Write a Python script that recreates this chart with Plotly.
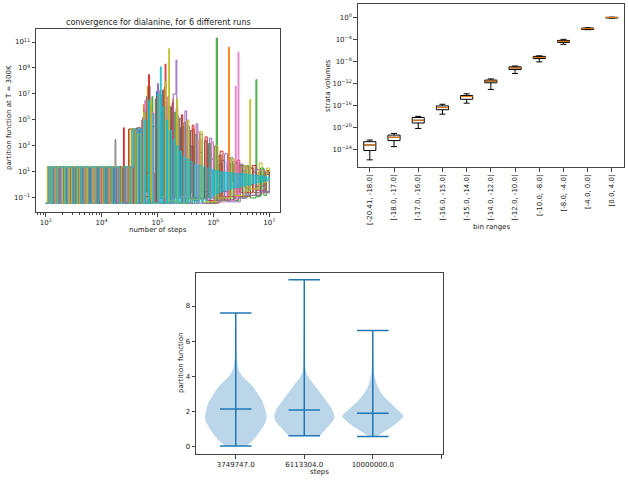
import math
import plotly.graph_objects as go

# ---------------- Panel 1: convergence runs, (log10 steps, log10 partition function) ----------------
run_colors = ["#1f77b4", "#ff7f0e", "#2ca02c", "#d62728", "#9467bd",
              "#8c564b", "#e377c2", "#7f7f7f", "#bcbd22", "#17becf"]

run0_pts = [(3.00,-1.4),(3.03,1.4),(3.08,-1.4),(3.12,1.4),(3.19,-1.4),(3.22,1.4),(3.31,-1.4),(3.35,1.4),(3.44,-1.4),(3.47,1.4),
            (3.58,-1.4),(3.62,1.4),(3.71,-1.4),(3.76,1.4),(3.86,-1.4),(3.90,1.4),(4.01,-1.4),(4.06,1.4),(4.16,-1.4),(4.21,1.4),
            (4.33,-1.4),(4.38,1.4),(4.52,-1.4),
            (4.56,4.3),(4.63,-1.4),(4.68,4.3),(4.74,-0.5),(4.80,6.8),(4.815,-1.4),(4.86,5.5),(4.89,-1.4),(4.98,7.2),(4.995,-0.8),
            (5.10,6.0),(5.12,-1.4),(5.24,5.2),(5.26,-1.0),(5.41,4.4),(5.43,-1.4),(5.50,3.8),(5.53,-0.6),(5.60,3.0),(5.64,-1.2),
            (5.75,2.5),(5.80,-0.5),(5.95,2.0),(6.00,-1.0),(6.10,1.6),(6.15,-0.5),(6.30,1.4),(6.36,-0.3),(6.50,1.1),(6.56,0.0),
            (6.70,1.0),(6.76,-0.1),(6.90,0.8),(7.00,0.6)]

run1_pts = [(3.01,-1.4),(3.05,1.4),(3.10,-1.4),(3.14,1.4),(3.23,-1.4),(3.27,1.4),(3.36,-1.4),(3.40,1.4),(3.50,-1.4),(3.54,1.4),
            (3.65,-1.4),(3.69,1.4),(3.79,-1.4),(3.83,1.4),(3.93,-1.4),(3.98,1.4),(4.09,-1.4),(4.14,1.4),(4.25,-1.4),(4.30,1.4),
            (4.45,-1.4),
            (4.50,4.3),(4.58,-1.4),(4.62,3.5),(4.70,-1.4),(4.75,6.2),(4.765,0.8),(4.82,7.6),(4.835,-1.4),(4.99,6.5),(5.005,-1.4),
            (5.12,5.8),(5.14,-0.6),(5.27,6.6),(5.285,-1.4),(5.44,4.5),(5.47,-1.0),(5.63,4.3),(5.66,-1.4),(5.74,3.5),(5.78,-0.8),
            (5.90,2.8),(5.94,-1.3),(6.08,2.2),(6.12,-1.0),(6.27,10.6),(6.285,0.2),(6.34,1.8),(6.40,-0.5),(6.50,1.5),(6.56,-0.2),
            (6.64,1.3),(6.70,-0.3),(6.80,1.0),(6.86,0.0),(6.94,0.9),(7.00,0.6)]

run2_pts = [(3.02,-1.4),(3.06,1.4),(3.13,-1.4),(3.17,1.4),(3.25,-1.4),(3.29,1.4),(3.39,-1.4),(3.43,1.4),(3.53,-1.4),(3.57,1.4),
            (3.68,-1.4),(3.72,1.4),(3.82,-1.4),(3.87,1.4),(3.96,-1.4),(4.00,1.4),(4.12,-1.4),(4.17,1.4),(4.28,-1.4),(4.34,1.4),
            (4.47,-1.4),
            (4.53,4.2),(4.60,-1.4),(4.66,3.8),(4.72,-1.4),(4.79,5.0),(4.81,-0.5),(4.90,6.8),(4.915,-1.4),(5.03,7.1),(5.045,-1.0),
            (5.15,6.2),(5.17,-1.4),(5.30,5.6),(5.32,-0.7),(5.47,4.8),(5.50,-1.4),(5.67,3.9),(5.70,-1.0),(5.91,3.2),(5.95,-1.4),
            (6.05,11.3),(6.07,-1.3),(6.15,1.9),(6.20,-1.2),(6.30,1.6),(6.36,-1.2),(6.45,1.5),(6.52,-1.0),(6.60,1.4),(6.66,-1.0),
            (6.76,8.1),(6.775,-0.9),(6.84,1.3),(6.90,-0.8),(6.95,1.1),(7.00,-0.6)]

run3_pts = [(3.00,-1.4),(3.04,1.4),(3.11,-1.4),(3.15,1.4),(3.21,-1.4),(3.25,1.4),(3.33,-1.4),(3.37,1.4),(3.46,-1.4),(3.49,1.4),
            (3.60,-1.4),(3.64,1.4),(3.74,-1.4),(3.78,1.4),(3.88,-1.4),(3.92,1.4),(4.04,-1.4),(4.08,1.4),(4.20,-1.4),(4.24,1.4),
            (4.37,-1.4),(4.39,4.4),(4.405,-1.4),
            (4.50,1.4),(4.56,-1.4),(4.60,4.3),(4.66,-1.4),(4.72,5.0),(4.74,0.9),(4.84,8.5),(4.855,0.9),(4.95,-1.4),(4.98,6.8),
            (4.995,-1.4),(5.12,7.5),(5.135,9.3),(5.15,-1.4),(5.26,6.3),(5.28,-0.9),(5.43,5.4),(5.45,-1.4),(5.62,4.6),(5.65,-1.0),
            (5.85,3.7),(5.89,-1.2),(6.12,2.6),(6.17,-0.9),(6.42,1.9),(6.47,-0.6),(6.70,1.5),(6.76,-0.4),(6.94,1.1),(7.00,0.4)]

run4_pts = [(3.01,-1.4),(3.05,1.4),(3.12,-1.4),(3.16,1.4),(3.24,-1.4),(3.28,1.4),(3.34,-1.4),(3.38,1.4),(3.48,-1.4),(3.52,1.4),
            (3.61,-1.4),(3.66,1.4),(3.75,-1.4),(3.80,1.4),(3.91,-1.4),(3.95,1.4),(4.07,-1.4),(4.11,1.4),(4.23,-1.4),(4.27,1.4),
            (4.41,-1.4),(4.46,1.4),(4.57,-1.4),
            (4.61,4.3),(4.67,-1.4),(4.73,5.2),(4.75,-1.0),(4.87,6.1),(4.89,-1.4),(5.00,7.8),(5.015,-0.7),(5.14,6.4),(5.16,-1.4),
            (5.28,7.0),(5.33,9.6),(5.345,-1.4),(5.49,5.7),(5.52,-1.1),(5.69,4.7),(5.72,-1.4),(5.93,3.6),(5.97,-1.0),(6.20,2.4),
            (6.25,-1.3),(6.48,1.6),(6.53,-0.8),(6.76,1.2),(6.82,-0.5),(7.00,0.3)]

run5_pts = [(3.03,-1.4),(3.07,1.4),(3.14,-1.4),(3.18,1.4),(3.27,-1.4),(3.30,1.4),(3.40,-1.4),(3.45,1.4),(3.55,-1.4),(3.59,1.4),
            (3.67,-1.4),(3.71,1.4),(3.81,-1.4),(3.85,1.4),(3.94,-1.4),(4.00,1.4),(4.10,-1.4),(4.15,1.4),(4.26,-1.4),(4.31,1.4),
            (4.43,-1.4),
            (4.48,4.3),(4.58,-1.4),(4.63,4.4),(4.69,-1.4),(4.76,5.8),(4.78,-0.9),(4.85,7.6),(4.865,-1.4),(4.96,6.6),(4.98,-1.0),
            (5.09,7.3),(5.105,-1.4),(5.23,6.0),(5.25,-0.8),(5.39,5.1),(5.42,-1.4),(5.59,4.2),(5.62,-1.0),(5.84,3.4),(5.88,-1.4),
            (6.10,2.3),(6.15,-1.1),(6.38,1.7),(6.44,-0.9),(6.66,1.3),(6.72,-0.6),(6.92,1.0),(7.00,0.2)]

run6_pts = [(3.02,-1.4),(3.06,1.4),(3.15,-1.4),(3.19,1.4),(3.28,-1.4),(3.32,1.4),(3.41,-1.4),(3.46,1.4),(3.56,-1.4),(3.60,1.4),
            (3.70,-1.4),(3.74,1.4),(3.84,-1.4),(3.89,1.4),(3.99,-1.4),(4.03,1.4),(4.13,-1.4),(4.18,1.4),(4.29,-1.4),(4.35,1.4),
            (4.46,-1.4),(4.51,1.4),(4.59,-1.4),
            (4.64,4.3),(4.71,-1.4),(4.77,6.5),(4.79,-0.8),(4.91,5.6),(4.93,-1.4),(5.04,7.3),(5.055,-1.0),(5.18,6.8),(5.20,-1.4),
            (5.33,5.9),(5.36,-0.9),(5.51,4.9),(5.54,-1.4),(5.72,4.1),(5.75,-1.1),(5.96,3.3),(6.00,-1.3),(6.24,1.8),(6.29,-1.2),
            (6.39,7.6),(6.405,-1.1),(6.44,10.2),(6.455,-1.0),(6.58,1.4),(6.63,-0.8),(6.82,1.1),(6.87,-0.6),(7.00,-0.5)]

run7_pts = [(3.00,-1.4),(3.04,1.4),(3.10,-1.4),(3.13,1.4),(3.20,-1.4),(3.24,1.4),(3.32,-1.4),(3.36,1.4),(3.45,-1.4),(3.50,1.4),
            (3.59,-1.4),(3.63,1.4),(3.73,-1.4),(3.77,1.4),(3.87,-1.4),(3.92,1.4),(4.03,-1.4),(4.07,1.4),(4.18,-1.4),(4.22,1.4),
            (4.24,3.5),(4.255,-1.4),(4.36,1.4),(4.42,-1.4),
            (4.54,4.3),(4.59,-1.4),(4.65,4.4),(4.70,-1.0),(4.77,5.6),(4.79,-1.4),(4.88,4.5),(5.05,-0.9),(5.07,6.9),(5.085,-1.4),
            (5.20,6.1),(5.22,-0.8),(5.35,5.3),(5.38,-1.4),(5.54,4.5),(5.57,-1.0),(5.76,3.9),(5.80,-1.4),(6.02,3.0),(6.06,-1.2),
            (6.30,2.1),(6.35,-1.0),(6.58,1.5),(6.63,-0.8),(6.86,1.2),(6.91,-0.6),(7.00,0.5)]

run8_pts = [(3.01,-1.4),(3.03,1.4),(3.08,-1.4),(3.11,1.4),(3.18,-1.4),(3.21,1.4),(3.30,-1.4),(3.34,1.4),(3.42,-1.4),(3.46,1.4),
            (3.57,-1.4),(3.61,1.4),(3.72,-1.4),(3.75,1.4),(3.85,-1.4),(3.88,1.4),(4.02,-1.4),(4.05,1.4),(4.15,-1.4),(4.19,1.4),
            (4.32,-1.4),(4.36,1.4),(4.49,-1.4),
            (4.54,4.3),(4.60,-1.4),(4.64,3.9),(4.70,-1.4),(4.75,5.6),(4.77,-1.0),(4.87,6.4),(4.89,-1.4),(5.01,7.0),(5.025,-0.9),
            (5.14,8.0),(5.155,-1.4),(5.20,10.5),(5.215,-1.2),(5.34,6.6),(5.36,-1.4),(5.53,5.0),(5.56,-1.1),(5.76,4.1),(5.80,-1.3),
            (6.04,3.0),(6.08,-1.0),(6.32,2.0),(6.37,-0.8),(6.55,1.5),(6.60,-0.5),(6.65,6.6),(6.665,-0.3),(6.82,1.7),(6.87,0.2),
            (6.95,1.3),(7.00,1.0)]

run9_pts = [(3.00,-1.4),(3.05,1.4),(3.09,-1.4),(3.13,1.4),(3.20,-1.4),(3.26,1.4),(3.35,-1.4),(3.39,1.4),(3.48,-1.4),(3.55,1.4),
            (3.64,-1.4),(3.68,1.4),(3.77,-1.4),(3.82,1.4),(3.90,-1.4),(3.95,1.4),(4.05,-1.4),(4.10,1.4),(4.19,-1.4),(4.25,1.4),
            (4.32,-1.4),(4.40,1.4),(4.47,-1.4),(4.52,1.4),
            (4.57,4.3),(4.62,-1.4),(4.66,4.3),(4.71,-1.4),(4.76,5.0),(4.78,-1.4),(4.84,6.5),(4.855,-1.4),(4.92,5.5),(4.935,-1.4),
            (5.00,7.0),(5.015,-1.4),(5.05,9.1),(5.065,-1.4),(5.10,6.0),(5.115,-1.4),(5.16,5.0),(5.18,-1.4),(5.22,4.2),(5.25,-1.4),
            (5.28,3.5),(5.31,-1.4),(5.34,3.0),(5.37,-1.4),(5.40,2.6),(5.43,-1.4),(5.46,2.2),(5.49,-1.4),(5.52,2.0),(5.55,-1.4),
            (5.58,1.8),(5.62,-1.4),(5.66,1.6),(5.70,-1.4),(5.74,1.5),(5.78,-1.3),(5.82,1.4),(5.86,-1.2),(5.90,1.3),(5.94,-1.0),
            (5.98,1.2),(6.000,-0.8),(6.025,1.1),(6.05,-0.7),(6.075,1.1),(6.10,-0.6),(6.125,1.0),(6.15,-0.5),(6.175,1.0),(6.20,-0.4),
            (6.225,1.0),(6.25,-0.4),(6.275,0.95),(6.30,-0.3),(6.325,0.95),(6.35,-0.3),(6.375,0.9),(6.40,-0.2),(6.425,0.9),(6.45,-0.2),
            (6.475,0.9),(6.50,-0.1),(6.525,0.85),(6.55,-0.1),(6.575,0.85),(6.60,0.0),(6.625,0.8),(6.65,0.0),(6.675,0.8),(6.70,0.1),
            (6.725,0.75),(6.75,0.1),(6.775,0.75),(6.80,0.2),(6.825,0.7),(6.85,0.2),(6.875,0.7),(6.90,0.3),(6.925,0.65),(6.95,0.3),
            (6.975,0.6),(7.00,0.4)]

runs = [run0_pts, run1_pts, run2_pts, run3_pts, run4_pts,
        run5_pts, run6_pts, run7_pts, run8_pts, run9_pts]

# ---------------- Panel 2: strata volumes box plots (log10 values) ----------------
bin_labels = ["[-20.41, -18.0]", "[-18.0, -17.0]", "[-17.0, -16.0]", "[-16.0, -15.0]",
              "[-15.0, -14.0]", "[-14.0, -12.0]", "[-12.0, -10.0]", "[-10.0, -8.0]",
              "[-8.0, -4.0]", "[-4.0, 0.0]", "[0.0, 4.0]"]
box_lo_log  = [-25.9, -23.5, -20.2, -17.6, -15.6, -13.1, -10.2, -8.1, -4.9, -2.25, -0.15]
box_q1_log  = [-24.2, -22.4, -19.2, -16.8, -14.9, -11.9, -9.5, -7.5, -4.55, -2.2, -0.12]
box_med_log = [-23.2, -21.8, -18.7, -16.4, -14.4, -11.6, -9.2, -7.3, -4.36, -2.06, -0.05]
box_q3_log  = [-22.6, -21.4, -18.2, -16.1, -14.2, -11.4, -9.0, -7.1, -4.2, -1.95, 0.0]
box_hi_log  = [-22.3, -21.1, -18.0, -15.8, -13.9, -11.2, -8.85, -7.0, -4.0, -1.9, 0.02]

# ---------------- Panel 3: violins ----------------
violin_labels = ["3749747.0", "6113304.0", "10000000.0", ""]
violin_min  = [0.06, 0.64, 0.59]
violin_max  = [7.6, 9.49, 6.61]
violin_mean = [2.16, 2.1, 1.91]
v1_y  = [0.06,0.3,0.6,0.9,1.15,1.45,1.72,2.0,2.29,2.6,2.86,3.15,3.43,3.7,4.0,4.3,4.56,5.0,5.5,6.0,6.8,7.6]
v1_hw = [0.15,0.23,0.30,0.36,0.40,0.44,0.45,0.44,0.42,0.39,0.35,0.30,0.25,0.18,0.10,0.05,0.03,0.015,0.01,0.007,0.004,0.002]
v2_y  = [0.64,0.9,1.06,1.3,1.53,1.75,1.91,2.2,2.48,2.75,3.05,3.35,3.62,3.9,4.19,4.6,5.2,6.0,7.0,8.2,9.49]
v2_hw = [0.23,0.29,0.33,0.39,0.43,0.44,0.43,0.40,0.35,0.30,0.24,0.18,0.13,0.07,0.03,0.013,0.008,0.005,0.003,0.002,0.002]
v3_y  = [0.59,0.64,0.8,0.97,1.15,1.34,1.55,1.72,1.85,2.0,2.2,2.39,2.6,2.86,3.15,3.43,3.8,4.17,4.8,5.6,6.61]
v3_hw = [0.05,0.08,0.14,0.20,0.28,0.35,0.41,0.45,0.43,0.39,0.33,0.28,0.22,0.16,0.11,0.07,0.04,0.02,0.008,0.004,0.002]
violin_profiles = [(v1_y, v1_hw), (v2_y, v2_hw), (v3_y, v3_hw)]

# ---------------- Build figure ----------------
fig = go.Figure()
TXT = "#222222"
FONT = "DejaVu Sans"

for i, pts in enumerate(runs):
    xs = [10 ** p[0] for p in pts]
    ys = [10 ** p[1] for p in pts]
    fig.add_trace(go.Scatter(x=xs, y=ys, mode="lines", line=dict(color=run_colors[i], width=1, shape="hv"),
                             showlegend=False, hoverinfo="skip", xaxis="x", yaxis="y"))

positions = list(range(1, len(bin_labels) + 1))
fig.add_trace(go.Box(x=positions,
                     q1=[10 ** v for v in box_q1_log], median=[10 ** v for v in box_med_log],
                     q3=[10 ** v for v in box_q3_log], lowerfence=[10 ** v for v in box_lo_log],
                     upperfence=[10 ** v for v in box_hi_log],
                     width=0.5, whiskerwidth=0.5, fillcolor="white",
                     line=dict(color="black", width=1), boxpoints=False,
                     showlegend=False, hoverinfo="skip", xaxis="x2", yaxis="y2"))
mx, my = [], []
for p, m in zip(positions, box_med_log):
    mx += [p - 0.25, p + 0.25, None]
    my += [10 ** m, 10 ** m, None]
fig.add_trace(go.Scatter(x=mx, y=my, mode="lines", line=dict(color="#ff7f0e", width=1),
                         showlegend=False, hoverinfo="skip", xaxis="x2", yaxis="y2"))

vpos = [1, 2, 3]
for p, (vy, vh) in zip(vpos, violin_profiles):
    xs = [p + h for h in vh] + [p - h for h in reversed(vh)]
    ys = list(vy) + list(reversed(vy))
    fig.add_trace(go.Scatter(x=xs, y=ys, mode="lines", fill="toself",
                             fillcolor="rgba(31,119,180,0.3)", line=dict(width=0),
                             showlegend=False, hoverinfo="skip", xaxis="x3", yaxis="y3"))
ex, ey = [], []
cap = 0.23
for p, lo, hi, mu in zip(vpos, violin_min, violin_max, violin_mean):
    ex += [p, p, None, p - cap, p + cap, None, p - cap, p + cap, None, p - cap, p + cap, None]
    ey += [lo, hi, None, lo, lo, None, hi, hi, None, mu, mu, None]
fig.add_trace(go.Scatter(x=ex, y=ey, mode="lines", line=dict(color="#1f77b4", width=1.5),
                         showlegend=False, hoverinfo="skip", xaxis="x3", yaxis="y3"))

W, H = 628, 483
def px_x(v): return v / W
def px_y(v): return 1 - v / H

axis_style = dict(showline=True, mirror=True, linecolor="#444", linewidth=1,
                  ticks="outside", ticklen=3.5, tickwidth=0.8, tickcolor="#444",
                  showgrid=False, zeroline=False,
                  tickfont=dict(family=FONT, size=7, color=TXT))

def sup(e):
    s = str(e).replace("-", "\u2212")
    return "10<sup>%s</sup>" % s

x1_ticks = [3, 4, 5, 6, 7]
y1_ticks = [-1, 1, 3, 5, 7, 9, 11]
x1_minor = [m * 10 ** d for d in range(2, 8) for m in range(2, 10)
            if 2.83 < math.log10(m * 10 ** d) < 7.19]
y2_ticks = [0, -4, -8, -12, -16, -20, -24]

fig.update_layout(
    width=W, height=H, margin=dict(l=0, r=0, t=0, b=0),
    paper_bgcolor="white", plot_bgcolor="white",
    font=dict(family=FONT, color=TXT, size=7),
    xaxis=dict(axis_style, domain=[px_x(36), px_x(280)], anchor="y", type="log",
               range=[2.826, 7.19], tickmode="array",
               tickvals=[10 ** t for t in x1_ticks], ticktext=[sup(t) for t in x1_ticks],
               minor=dict(ticks="outside", ticklen=2, tickwidth=0.6, tickcolor="#444",
                          tickvals=x1_minor)),
    yaxis=dict(axis_style, domain=[px_y(212), px_y(29)], anchor="x", type="log",
               range=[-2.08, 12.0], tickmode="array",
               tickvals=[10 ** t for t in y1_ticks], ticktext=[sup(t) for t in y1_ticks]),
    xaxis2=dict(axis_style, domain=[px_x(357.7), px_x(624)], anchor="y2",
                range=[0.5, 11.5], tickmode="array", tickvals=positions,
                ticktext=bin_labels, tickangle=-90),
    yaxis2=dict(axis_style, domain=[px_y(167), px_y(4)], anchor="x2", type="log",
                range=[-27.2, 2.42], tickmode="array",
                tickvals=[10 ** t for t in y2_ticks], ticktext=[sup(t) for t in y2_ticks]),
    xaxis3=dict(axis_style, domain=[px_x(196), px_x(442.7)], anchor="y3",
                range=[0.42, 4.02], tickmode="array", tickvals=[1, 2, 3, 4],
                ticktext=violin_labels),
    yaxis3=dict(axis_style, domain=[px_y(454), px_y(272.7)], anchor="x3",
                range=[-0.4, 9.89], tickmode="array", tickvals=[0, 2, 4, 6, 8],
                ticktext=["0", "2", "4", "6", "8"]),
)

def ann(text, x, y, size=7, angle=0):
    fig.add_annotation(text=text, x=px_x(x), y=px_y(y), xref="paper", yref="paper",
                       showarrow=False, textangle=angle, xanchor="center", yanchor="middle",
                       font=dict(family=FONT, size=size, color=TXT))

ann("convergence for dialanine, for 6 different runs", 158, 22, size=8)
ann("number of steps", 158, 230)
ann("partition function at T = 300K", 9, 118, angle=-90)
ann("strata volumes", 328, 86, angle=-90)
ann("bin ranges", 491, 227)
ann("partition function", 181, 363, angle=-90)
ann("steps", 319, 472)

fig.write_html("out.html")
